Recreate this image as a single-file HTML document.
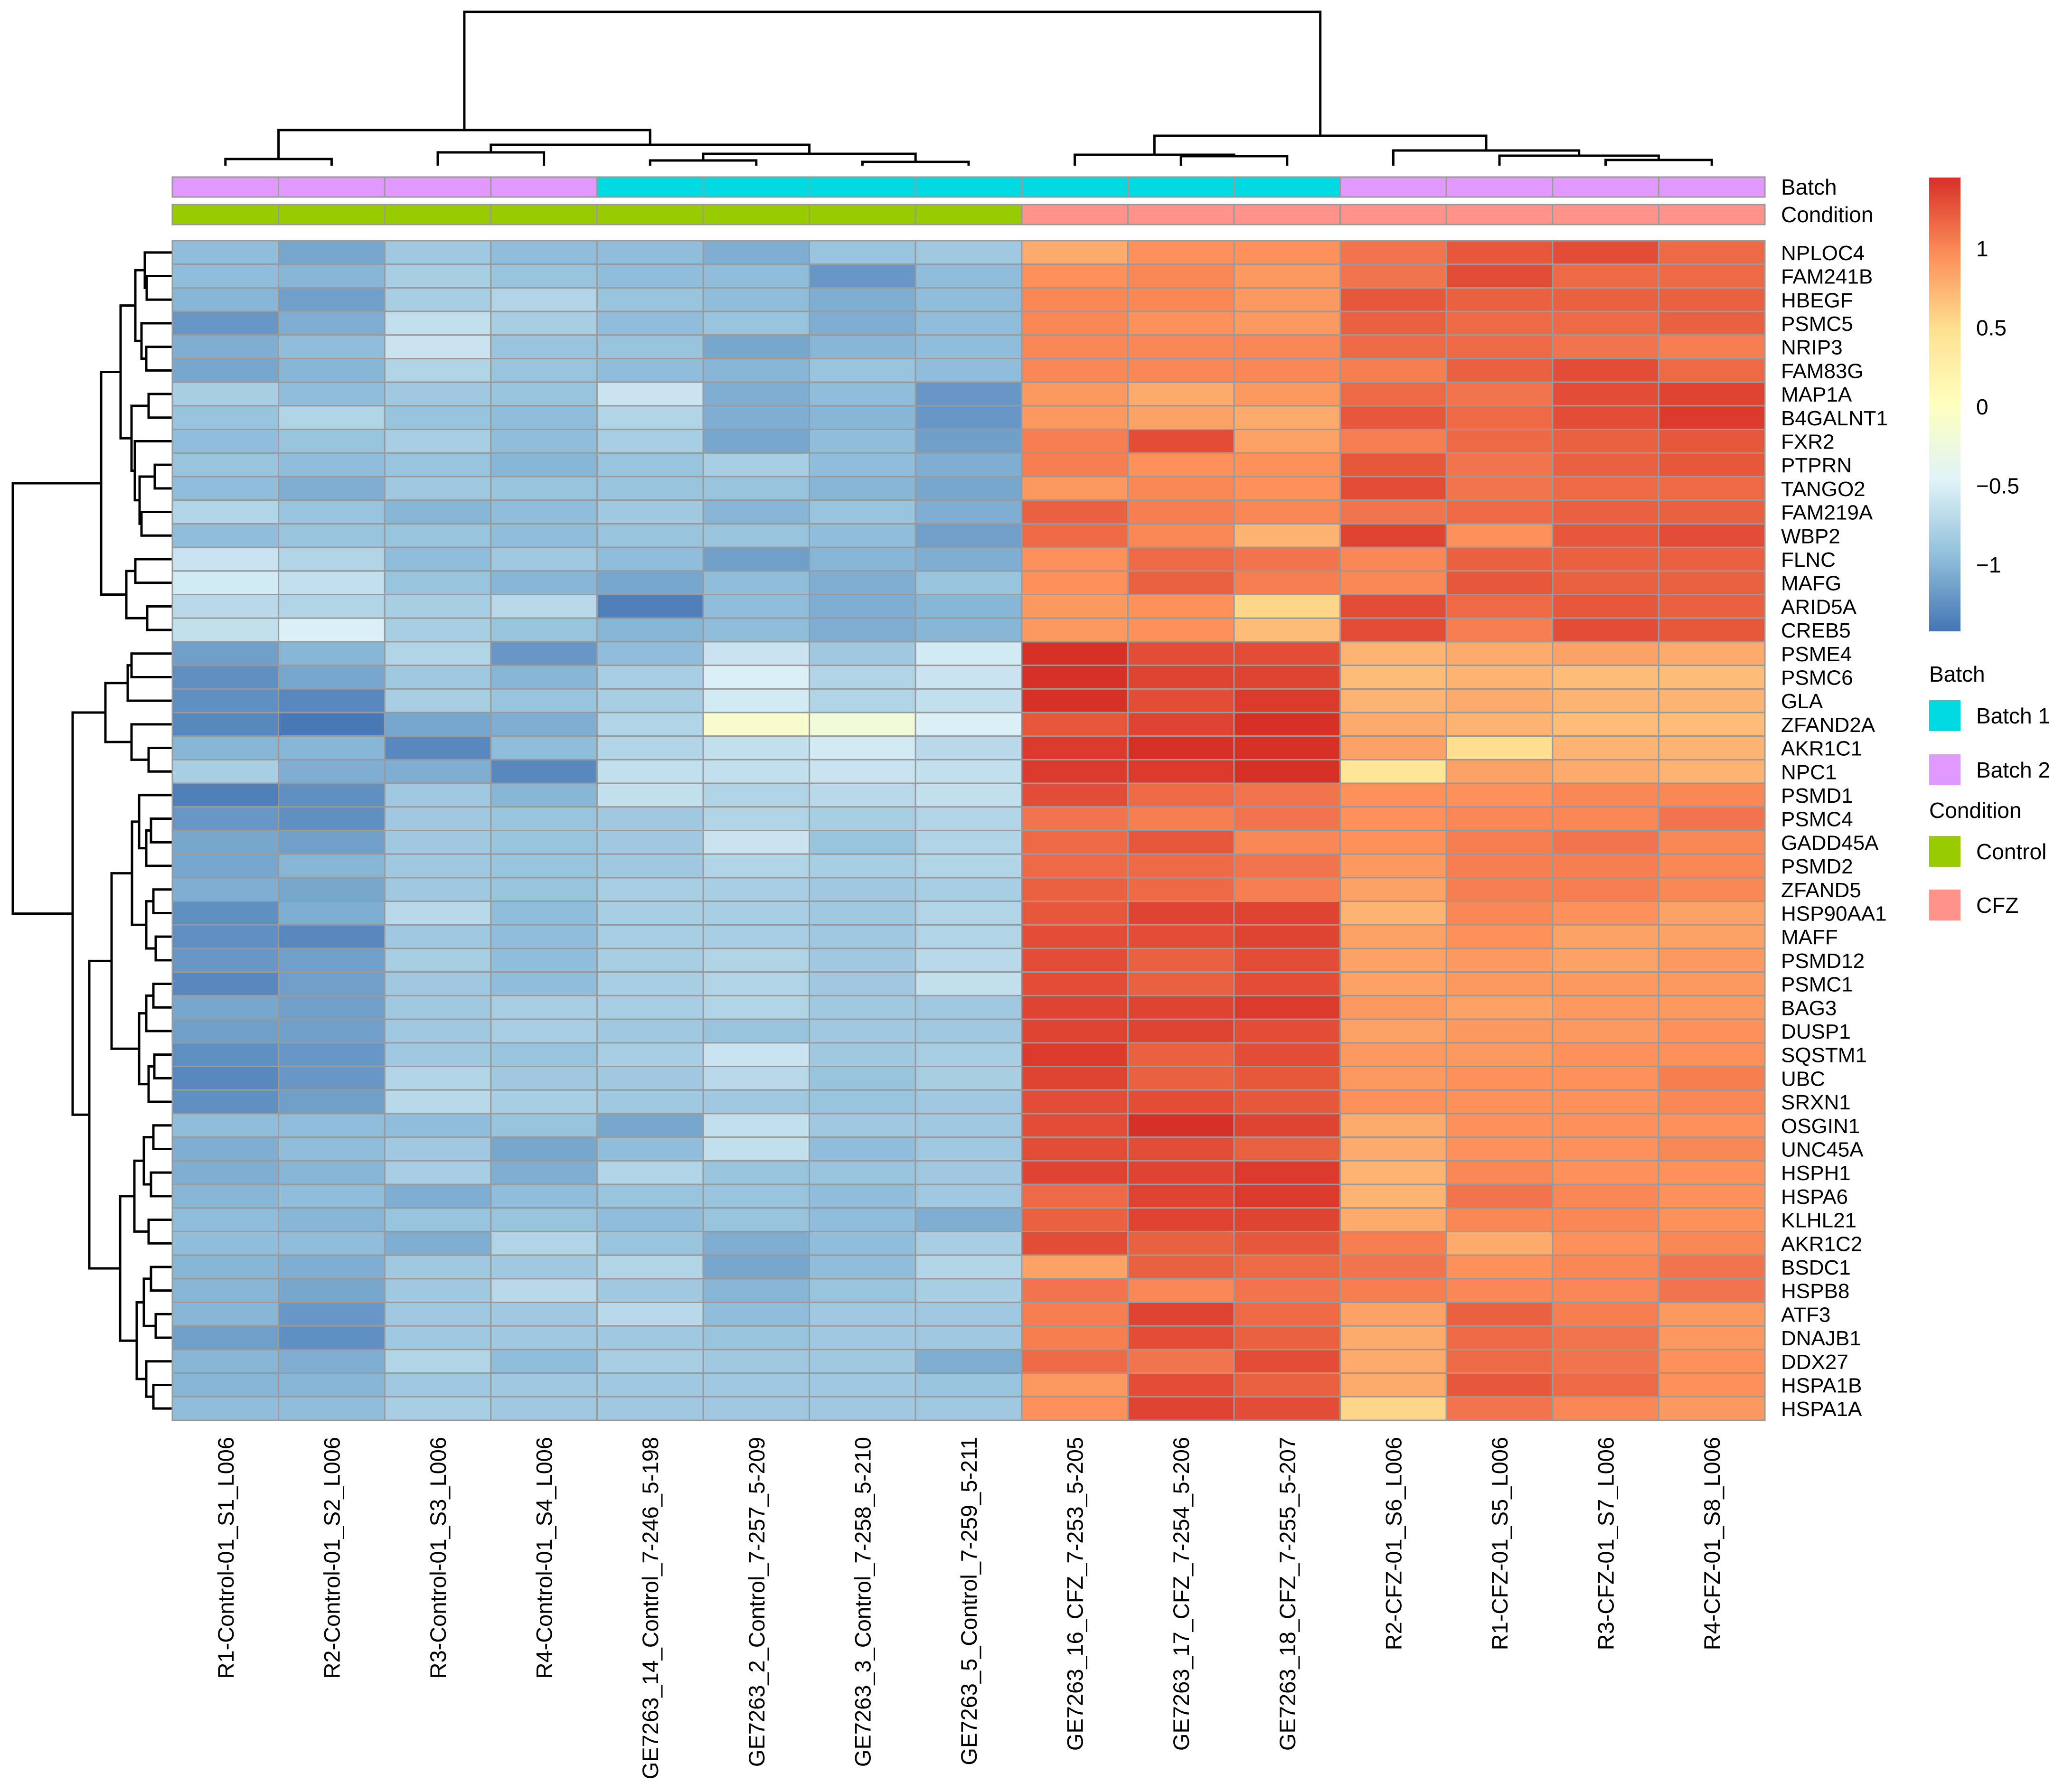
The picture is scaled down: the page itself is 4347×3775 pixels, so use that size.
<!DOCTYPE html>
<html><head><meta charset="utf-8">
<style>
html,body{margin:0;padding:0;background:#fff;}
svg{display:block;}
text{font-family:"Liberation Sans",Arial,sans-serif;fill:#000;}
</style></head>
<body>
<svg id="chart" width="4347" height="3775" viewBox="0 0 4347 3775" xmlns="http://www.w3.org/2000/svg">
<defs>
<linearGradient id="grad" x1="0" y1="1" x2="0" y2="0">
<stop offset="0" stop-color="#4575B4"/><stop offset="0.1667" stop-color="#91BFDB"/><stop offset="0.3333" stop-color="#E0F3F8"/><stop offset="0.5" stop-color="#FFFFBF"/><stop offset="0.6667" stop-color="#FEE090"/><stop offset="0.8333" stop-color="#FC8D59"/><stop offset="1" stop-color="#D73027"/>
</linearGradient>
</defs>
<g id="coldendro"></g>
<g id="rowdendro"></g>
<g id="annot"></g>
<g id="cells"></g>
<g id="rowlabels"></g>
<g id="collabels"></g>
<g id="legend">
<rect x="4063" y="374" width="66" height="956" fill="url(#grad)"/>
<g id="scaleticks"></g>
<text x="4063" y="1436" font-size="46">Batch</text>
<rect x="4063" y="1475" width="66" height="65" fill="#00DAE0"/>
<text x="4162" y="1524" font-size="46">Batch 1</text>
<rect x="4063" y="1589" width="66" height="65" fill="#E199FF"/>
<text x="4162" y="1638" font-size="46">Batch 2</text>
<text x="4063" y="1723" font-size="46">Condition</text>
<rect x="4063" y="1761" width="66" height="65" fill="#99CC00"/>
<text x="4162" y="1810" font-size="46">Control</text>
<rect x="4063" y="1874" width="66" height="65" fill="#FF9289"/>
<text x="4162" y="1923" font-size="46">CFZ</text>
</g>
</svg>
<script>
const genes = ["NPLOC4","FAM241B","HBEGF","PSMC5","NRIP3","FAM83G","MAP1A","B4GALNT1","FXR2","PTPRN","TANGO2","FAM219A","WBP2","FLNC","MAFG","ARID5A","CREB5","PSME4","PSMC6","GLA","ZFAND2A","AKR1C1","NPC1","PSMD1","PSMC4","GADD45A","PSMD2","ZFAND5","HSP90AA1","MAFF","PSMD12","PSMC1","BAG3","DUSP1","SQSTM1","UBC","SRXN1","OSGIN1","UNC45A","HSPH1","HSPA6","KLHL21","AKR1C2","BSDC1","HSPB8","ATF3","DNAJB1","DDX27","HSPA1B","HSPA1A"];
const samples = ["R1-Control-01_S1_L006","R2-Control-01_S2_L006","R3-Control-01_S3_L006","R4-Control-01_S4_L006","GE7263_14_Control_7-246_5-198","GE7263_2_Control_7-257_5-209","GE7263_3_Control_7-258_5-210","GE7263_5_Control_7-259_5-211","GE7263_16_CFZ_7-253_5-205","GE7263_17_CFZ_7-254_5-206","GE7263_18_CFZ_7-255_5-207","R2-CFZ-01_S6_L006","R1-CFZ-01_S5_L006","R3-CFZ-01_S7_L006","R4-CFZ-01_S8_L006"];
const batch = ["Batch 2","Batch 2","Batch 2","Batch 2","Batch 1","Batch 1","Batch 1","Batch 1","Batch 1","Batch 1","Batch 1","Batch 2","Batch 2","Batch 2","Batch 2"];
const condition = ["Control","Control","Control","Control","Control","Control","Control","Control","CFZ","CFZ","CFZ","CFZ","CFZ","CFZ","CFZ"];
const scaleTicks = [1,0.5,0,-0.5,-1];
const scaleTickLabels = ["1","0.5","0","\u22120.5","\u22121"];
const values = [
[-0.95,-1.1,-0.85,-0.95,-0.95,-1.05,-0.9,-0.85,0.8,0.95,0.95,1.1,1.25,1.3,1.15],
[-0.95,-1.0,-0.8,-0.9,-0.95,-0.95,-1.2,-0.95,0.95,1.0,0.9,1.1,1.3,1.15,1.15],
[-1.0,-1.15,-0.8,-0.75,-0.9,-0.95,-1.05,-0.95,1.0,1.0,0.9,1.25,1.2,1.2,1.2],
[-1.2,-1.05,-0.65,-0.8,-0.95,-0.9,-1.05,-0.95,1.0,0.95,0.9,1.2,1.15,1.15,1.2],
[-1.05,-0.95,-0.6,-0.9,-0.9,-1.1,-1.0,-0.95,1.0,1.0,1.0,1.15,1.15,1.1,1.05],
[-1.1,-1.0,-0.75,-0.9,-0.95,-1.0,-0.9,-0.95,1.0,1.0,1.0,1.05,1.2,1.3,1.15],
[-0.8,-0.95,-0.85,-0.9,-0.6,-1.05,-0.95,-1.2,0.9,0.8,0.9,1.15,1.1,1.3,1.35],
[-0.9,-0.75,-0.9,-0.95,-0.75,-1.05,-1.0,-1.2,0.9,0.85,0.8,1.25,1.15,1.3,1.4],
[-0.95,-0.9,-0.8,-0.95,-0.8,-1.1,-0.95,-1.15,1.05,1.3,0.85,1.05,1.15,1.2,1.25],
[-0.9,-0.95,-0.9,-1.0,-0.9,-0.8,-0.95,-1.05,1.05,0.95,0.95,1.25,1.1,1.2,1.25],
[-0.95,-1.05,-0.85,-0.9,-0.9,-0.9,-1.0,-1.1,0.9,1.0,0.95,1.3,1.1,1.15,1.15],
[-0.75,-0.9,-1.0,-0.95,-0.85,-1.0,-0.9,-1.05,1.2,1.05,1.0,1.1,1.15,1.2,1.2],
[-0.95,-0.9,-0.9,-0.95,-0.9,-0.9,-0.95,-1.15,1.15,1.0,0.75,1.35,0.95,1.25,1.3],
[-0.6,-0.75,-0.95,-0.85,-0.95,-1.15,-1.0,-1.05,0.95,1.15,1.1,1.0,1.2,1.2,1.2],
[-0.55,-0.65,-0.9,-1.0,-1.1,-0.95,-1.05,-0.9,0.95,1.2,1.05,1.0,1.25,1.2,1.2],
[-0.7,-0.75,-0.8,-0.7,-1.35,-0.95,-1.05,-1.0,0.9,0.95,0.55,1.3,1.15,1.25,1.2],
[-0.65,-0.5,-0.8,-0.9,-1.0,-0.95,-1.05,-1.0,0.9,0.95,0.7,1.3,1.05,1.3,1.25],
[-1.15,-1.0,-0.75,-1.2,-0.95,-0.6,-0.85,-0.55,1.45,1.3,1.3,0.75,0.8,0.85,0.8],
[-1.25,-1.1,-0.85,-1.0,-0.8,-0.5,-0.75,-0.6,1.45,1.35,1.35,0.7,0.75,0.7,0.7],
[-1.25,-1.3,-0.8,-0.9,-0.8,-0.55,-0.75,-0.65,1.45,1.3,1.4,0.75,0.8,0.75,0.75],
[-1.3,-1.4,-1.1,-1.05,-0.75,-0.1,-0.2,-0.5,1.25,1.35,1.5,0.8,0.75,0.7,0.7],
[-1.0,-1.0,-1.3,-0.95,-0.75,-0.65,-0.55,-0.7,1.4,1.45,1.45,0.85,0.5,0.75,0.75],
[-0.8,-1.05,-1.05,-1.3,-0.65,-0.65,-0.6,-0.65,1.4,1.4,1.45,0.4,0.85,0.8,0.75],
[-1.35,-1.25,-0.85,-1.0,-0.65,-0.75,-0.7,-0.65,1.3,1.15,1.1,0.95,0.95,1.0,1.0],
[-1.2,-1.25,-0.85,-0.9,-0.85,-0.75,-0.8,-0.75,1.1,1.05,1.1,0.95,1.0,1.0,1.1],
[-1.1,-1.15,-0.85,-0.9,-0.85,-0.6,-0.9,-0.75,1.15,1.25,1.0,0.95,1.05,1.1,1.0],
[-1.1,-1.0,-0.85,-0.9,-0.85,-0.75,-0.8,-0.75,1.15,1.15,1.1,0.9,1.05,1.05,1.0],
[-1.05,-1.1,-0.85,-0.9,-0.8,-0.8,-0.85,-0.8,1.2,1.15,1.05,0.85,1.05,1.05,1.0],
[-1.25,-1.05,-0.7,-0.95,-0.8,-0.8,-0.85,-0.75,1.25,1.35,1.35,0.75,1.0,0.95,0.85],
[-1.25,-1.3,-0.85,-0.95,-0.8,-0.8,-0.85,-0.75,1.3,1.3,1.35,0.85,0.95,0.85,0.85],
[-1.2,-1.15,-0.8,-0.95,-0.8,-0.75,-0.85,-0.7,1.3,1.2,1.3,0.85,0.9,0.85,0.9],
[-1.3,-1.15,-0.85,-0.95,-0.8,-0.75,-0.85,-0.65,1.3,1.2,1.3,0.85,0.9,0.9,0.9],
[-1.1,-1.15,-0.85,-0.8,-0.8,-0.75,-0.85,-0.85,1.35,1.35,1.4,0.9,0.85,0.9,0.9],
[-1.15,-1.15,-0.85,-0.8,-0.85,-0.9,-0.85,-0.85,1.35,1.35,1.3,0.85,0.9,0.9,0.95],
[-1.25,-1.2,-0.85,-0.9,-0.8,-0.6,-0.85,-0.8,1.4,1.2,1.3,0.9,0.9,0.95,0.95],
[-1.3,-1.2,-0.75,-0.85,-0.85,-0.7,-0.9,-0.8,1.35,1.2,1.25,0.9,0.95,0.95,1.05],
[-1.25,-1.15,-0.7,-0.8,-0.85,-0.85,-0.9,-0.85,1.3,1.3,1.25,0.95,0.95,0.95,1.0],
[-0.95,-0.95,-0.95,-0.9,-1.1,-0.65,-0.85,-0.85,1.3,1.45,1.35,0.8,0.95,0.95,0.95],
[-1.05,-0.95,-0.85,-1.1,-0.95,-0.65,-0.95,-0.85,1.3,1.3,1.2,0.8,0.95,0.95,1.0],
[-1.05,-1.0,-0.8,-1.05,-0.75,-0.9,-0.9,-0.85,1.35,1.35,1.4,0.75,1.0,0.95,0.95],
[-1.0,-0.95,-1.05,-0.95,-0.9,-0.9,-0.95,-0.85,1.15,1.35,1.4,0.75,1.1,1.0,0.95],
[-0.95,-1.0,-0.9,-0.9,-0.95,-0.9,-0.95,-1.05,1.2,1.35,1.35,0.8,1.0,1.0,0.95],
[-0.95,-0.95,-1.05,-0.75,-0.9,-1.05,-0.95,-0.8,1.3,1.2,1.25,1.05,0.8,0.95,1.0],
[-1.0,-1.05,-0.85,-0.85,-0.75,-1.1,-0.95,-0.75,0.85,1.2,1.15,1.1,0.95,1.0,1.1],
[-1.0,-1.1,-0.85,-0.7,-0.85,-1.0,-0.9,-0.8,1.1,1.0,1.1,1.05,1.0,1.0,1.1],
[-1.0,-1.2,-0.85,-0.85,-0.7,-0.95,-0.85,-0.85,1.05,1.35,1.15,0.85,1.2,1.05,0.9],
[-1.15,-1.25,-0.85,-0.85,-0.85,-0.9,-0.85,-0.85,1.05,1.3,1.2,0.8,1.15,1.1,0.9],
[-1.0,-1.05,-0.75,-0.95,-0.8,-0.85,-0.85,-1.05,1.15,1.1,1.3,0.8,1.15,1.1,0.95],
[-1.0,-1.0,-0.85,-0.85,-0.85,-0.85,-0.85,-0.9,0.9,1.3,1.2,0.8,1.25,1.15,0.95],
[-0.95,-0.95,-0.8,-0.85,-0.85,-0.85,-0.85,-0.85,0.95,1.35,1.3,0.55,1.1,1.0,0.9]
];
const colTree = [[[0,1,14],[[2,3,28],[[4,5,11],[6,7,8],25],44],75],[[8,[9,10,20],23],[11,[12,[13,14,12],21],32],63],324];
const rowA = [[[[0,[1,2,54],58],[3,[4,5,55],65],78],[[6,7,50],[8,[[9,10,37],[11,12,65],69],79],86],109],[[13,14,78],[15,16,53],97],150];
const rowB1 = [[[17,18,86],19,94],[20,[21,22,50],86],141];
const rowB2a = [[[23,[[24,25,45],26,55],70],[[27,28,40],[29,30,35],55],85],[[[31,32,40],33,55],[[34,35,38],36,50],70],128];
const rowB2b = [[[[37,38,40],[39,40,45],60],[41,42,50],80],[[[43,44,45],[45,46,35],60],[47,[48,49,40],55],75],110];
const rowTree = [rowA,[rowB1,[rowB2a,rowB2b,175],210],336];

const NS = "http://www.w3.org/2000/svg";
const X0 = 363, CW = 223.6, Y0 = 507, RH = 49.7;
const colX = i => X0 + i * CW;
const rowY = j => Y0 + j * RH;
const vmin = -1.42, vmax = 1.45;
const stops = ["#4575B4","#91BFDB","#E0F3F8","#FFFFBF","#FEE090","#FC8D59","#D73027"];
function hex(c) { return [1,3,5].map(k => parseInt(c.substr(k,2),16)); }
function color(v) {
  let t = (v - vmin) / (vmax - vmin);
  t = Math.max(0, Math.min(1, t));
  const p = t * (stops.length - 1);
  const k = Math.min(stops.length - 2, Math.floor(p));
  const f = p - k;
  const a = hex(stops[k]), b = hex(stops[k+1]);
  return "rgb(" + a.map((x,i) => Math.round(x + (b[i]-x)*f)).join(",") + ")";
}
function mk(tag, attrs, parent) {
  const e = document.createElementNS(NS, tag);
  for (const k in attrs) e.setAttribute(k, attrs[k]);
  parent.appendChild(e);
  return e;
}

const gc = document.getElementById("cells");
for (let j = 0; j < genes.length; j++) {
  for (let i = 0; i < samples.length; i++) {
    const r = mk("rect", {x: colX(i), y: rowY(j), width: CW, height: RH, fill: color(values[j][i]), stroke: "#9a9a9a", "stroke-width": 3}, gc);
    
    
  }
}

const gr = document.getElementById("rowlabels");
genes.forEach((g, j) => {
  const t = mk("text", {x: 3751, y: rowY(j) + RH/2 + 16, "font-size": 44}, gr);
  t.textContent = g;
  
  
});

const gl = document.getElementById("collabels");
samples.forEach((s, i) => {
  const cx = colX(i) + CW/2 + 17, y = 3027;
  const t = mk("text", {x: cx, y: y, "font-size": 47, "text-anchor": "end", transform: "rotate(-90 " + cx + " " + y + ")"}, gl);
  t.textContent = s;
  
  
});

const ga = document.getElementById("annot");
const bcol = {"Batch 1": "#00DAE0", "Batch 2": "#E199FF"};
const ccol = {"Control": "#99CC00", "CFZ": "#FF9289"};
for (let i = 0; i < samples.length; i++) {
  const a = mk("rect", {x: colX(i), y: 373, width: CW, height: 42, fill: bcol[batch[i]], stroke: "#9a9a9a", "stroke-width": 3}, ga);
  
  
  const b = mk("rect", {x: colX(i), y: 431, width: CW, height: 42, fill: ccol[condition[i]], stroke: "#9a9a9a", "stroke-width": 3}, ga);
  
  
}
const an1 = mk("text", {x: 3751, y: 410, "font-size": 46}, ga);
an1.textContent = "Batch";


const an2 = mk("text", {x: 3751, y: 468, "font-size": 46}, ga);
an2.textContent = "Condition";



function drawTree(node, leafPos, g, orient) {
  if (typeof node === "number") return {p: leafPos(node), h: 0};
  const L = drawTree(node[0], leafPos, g, orient);
  const R = drawTree(node[1], leafPos, g, orient);
  const h = node[2];
  let d;
  if (orient === "col") {
    const base = 349;
    d = "M" + L.p + " " + (base - L.h) + "V" + (base - h) + "H" + R.p + "V" + (base - R.h);
  } else {
    const base = 363;
    d = "M" + (base - L.h) + " " + L.p + "H" + (base - h) + "V" + R.p + "H" + (base - R.h);
  }
  const e = mk("path", {d: d, fill: "none", stroke: "#000", "stroke-width": 5}, g);
  
  
  return {p: (L.p + R.p) / 2, h: h};
}
drawTree(colTree, i => colX(i) + CW/2, document.getElementById("coldendro"), "col");
drawTree(rowTree, j => rowY(j) + RH/2, document.getElementById("rowdendro"), "row");

const gs = document.getElementById("scaleticks");
const sy = v => 1330 - (v - vmin) / (vmax - vmin) * 956;
scaleTicks.forEach((v, k) => {
  const t = mk("text", {x: 4162, y: sy(v) + 16, "font-size": 46}, gs);
  t.textContent = scaleTickLabels[k];
  
  
});
</script>
</body></html>
